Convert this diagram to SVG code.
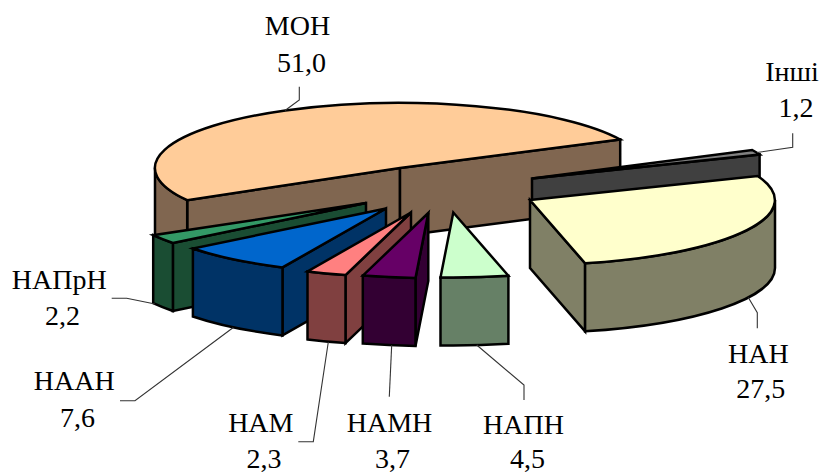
<svg xmlns="http://www.w3.org/2000/svg" width="820" height="473" viewBox="0 0 820 473">
<style>
.e{stroke:#000;stroke-width:2.5;stroke-linejoin:miter;stroke-miterlimit:6}
.lead{fill:none;stroke:#333;stroke-width:1.1}
text{font-family:"Liberation Serif","Times New Roman",serif;font-size:28px;fill:#000;text-anchor:middle}
.mon-t{fill:#FFCC99}.mon-s{fill:#806650}
.inshi-t{fill:#808080}.inshi-s{fill:#404040}
.nah-t{fill:#FFFFCC}.nah-s{fill:#808066}
.napn-t{fill:#CCFFCC}.napn-s{fill:#668066}
.namn-t{fill:#660066}.namn-s{fill:#330033}
.nam-t{fill:#FF8080}.nam-s{fill:#804040}
.naan-t{fill:#0066CC}.naan-s{fill:#003366}
.naprn-t{fill:#339966}.naprn-s{fill:#1A4D33}
</style>
<rect width="820" height="473" fill="#fff"/>
<g id="slice-mon">
<polygon class="e mon-s" points="400,168 187.2,200.2 187.2,268.2 400,236"/>
<polygon class="e mon-s" points="400,168 620.2,139.5 620.2,207.5 400,236"/>
<path class="e mon-s" d="M187.2,200.2 A245,65 0 0 1 155,168 L155,236 A245,65 0 0 0 187.2,268.2 Z"/>
<path class="e mon-t" d="M400,168 L620.2,139.5 A245,65 0 1 0 187.2,200.2 Z"/>
</g>
<g id="slice-inshi">
<polygon class="e inshi-s" points="532,178.5 759.6,154.5 759.6,222.5 532,246.5"/>
<path class="e inshi-t" d="M532,178.5 L752.2,150 A245,65 0 0 1 759.6,154.5 Z"/>
</g>
<g id="slice-nah">
<polygon class="e nah-s" points="530,200 585.1,263.3 585.1,331.3 530,268"/>
<path class="e nah-s" d="M775,200 A245,65 0 0 1 585.1,263.3 L585.1,331.3 A245,65 0 0 0 775,268 Z"/>
<path class="e nah-t" d="M530,200 L757.6,176 A245,65 0 0 1 585.1,263.3 Z"/>
</g>
<g id="slice-naprn">
<polygon class="e naprn-s" points="366,203 172.9,243 172.9,311 366,271"/>
<path class="e naprn-s" d="M172.9,243 A245,65 0 0 1 153.2,235.2 L153.2,303.2 A245,65 0 0 0 172.9,311 Z"/>
<path class="e naprn-t" d="M366,203 L172.9,243 A245,65 0 0 1 153.2,235.2 Z"/>
</g>
<g id="slice-naan">
<polygon class="e naan-s" points="386,208.5 282.5,267.4 282.5,335.4 386,276.5"/>
<path class="e naan-s" d="M282.5,267.4 A245,65 0 0 1 192.9,248.5 L192.9,316.5 A245,65 0 0 0 282.5,335.4 Z"/>
<path class="e naan-t" d="M386,208.5 L282.5,267.4 A245,65 0 0 1 192.9,248.5 Z"/>
</g>
<g id="slice-nam">
<polygon class="e nam-s" points="411,212.5 345.5,275.1 345.5,343.1 411,280.5"/>
<path class="e nam-s" d="M345.5,275.1 A245,65 0 0 1 307.5,271.4 L307.5,339.4 A245,65 0 0 0 345.5,343.1 Z"/>
<path class="e nam-t" d="M411,212.5 L345.5,275.1 A245,65 0 0 1 307.5,271.4 Z"/>
</g>
<g id="slice-namn">
<polygon class="e namn-s" points="428.3,213 415.5,277.9 415.5,345.9 428.3,281"/>
<path class="e namn-s" d="M415.5,277.9 A245,65 0 0 1 362.8,275.6 L362.8,343.6 A245,65 0 0 0 415.5,345.9 Z"/>
<path class="e namn-t" d="M428.3,213 L415.5,277.9 A245,65 0 0 1 362.8,275.6 Z"/>
</g>
<g id="slice-napn">
<path class="e napn-s" d="M508.4,275.8 A245,65 0 0 1 440.5,277.4 L440.5,345.4 A245,65 0 0 0 508.4,343.8 Z"/>
<path class="e napn-t" d="M453.3,212.5 L508.4,275.8 A245,65 0 0 1 440.5,277.4 Z"/>
</g>
<g id="connectors">
<polyline class="lead" points="285,110.5 299.3,100 299.3,86.7"/>
<polyline class="lead" points="757,152.5 792.7,147.3 792.7,133.3"/>
<polyline class="lead" points="748.3,297.5 757.3,312.7 757.3,328.3"/>
<polyline class="lead" points="476.7,345 524,385 524,400"/>
<polyline class="lead" points="391.7,345 389.3,396.7"/>
<polyline class="lead" points="328.3,342 313.3,441.7 298.3,441.7"/>
<polyline class="lead" points="233.3,327.5 135,400.7 120,400.7"/>
<polyline class="lead" points="155,304 126.7,298.3 111.7,298.3"/>
</g>
<g id="labels">
<text x="297.5" y="34.5">МОН</text><text x="301.5" y="71.5">51,0</text>
<text x="792" y="80.7">Інші</text><text x="796" y="117.3">1,2</text>
<text x="758.3" y="362.7">НАН</text><text x="760.8" y="398.3">27,5</text>
<text x="523.5" y="434">НАПН</text><text x="527.5" y="467.5">4,5</text>
<text x="389.5" y="432">НАМН</text><text x="392.5" y="467.5">3,7</text>
<text x="260.8" y="432">НАМ</text><text x="264" y="467.5">2,3</text>
<text x="74.2" y="390">НААН</text><text x="77.5" y="426.7">7,6</text>
<text x="59.2" y="289.3">НАПрН</text><text x="62.5" y="325">2,2</text>
</g>
</svg>
